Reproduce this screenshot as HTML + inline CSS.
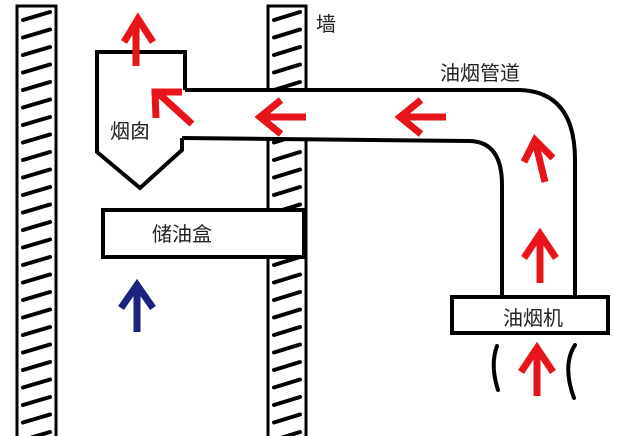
<!DOCTYPE html>
<html><head><style>body{margin:0;background:#fff}svg{display:block}text{font-family:"Liberation Sans","Noto Sans CJK SC",sans-serif;font-size:20px;fill:#222}</style></head><body>
<svg width="640" height="436" viewBox="0 0 640 436" xmlns="http://www.w3.org/2000/svg">
<defs>
<pattern id="h1" x="17" y="6" width="39" height="17.5" patternUnits="userSpaceOnUse">
<path d="M6 14 L33 6" stroke="#000" stroke-width="4" stroke-linecap="round"/>
</pattern>
<pattern id="h2" x="268" y="6" width="38" height="17.5" patternUnits="userSpaceOnUse">
<path d="M6 14 L32 6" stroke="#000" stroke-width="4" stroke-linecap="round"/>
</pattern>
</defs>
<g stroke="#000" stroke-width="3">
<rect x="17" y="6" width="39" height="440" fill="url(#h1)"/>
<rect x="268" y="6" width="38" height="440" fill="url(#h2)"/>
</g>
<!-- duct -->
<path d="M185 90 L520 90 Q575 92 575 160 L575 298 L502 298 L502 185 Q502 142 470 141 L182 138 Z" fill="#fff" stroke="none"/>
<path d="M185 90 L520 90 Q575 92 575 160 L575 298" fill="none" stroke="#000" stroke-width="4"/>
<path d="M182 138 L470 141 Q502 142 502 185 L502 298" fill="none" stroke="#000" stroke-width="4"/>
<!-- chimney -->
<path d="M185 90 L185 52 L97 52 L97 152 L140 188 L182 150 L182 138" fill="#fff" stroke="#000" stroke-width="4"/>
<!-- boxes -->
<rect x="103" y="210" width="201" height="47" fill="#fff" stroke="#000" stroke-width="4"/>
<rect x="452" y="297" width="156" height="36" fill="#fff" stroke="#000" stroke-width="4"/>
<!-- squiggles -->
<path d="M497 346 Q490 365 498 390" fill="none" stroke="#000" stroke-width="4" stroke-linecap="round"/>
<path d="M575 345 Q562 365 574 398" fill="none" stroke="#000" stroke-width="4" stroke-linecap="round"/>
<!-- red arrows -->
<g stroke="#e8141b" stroke-width="7" fill="none" stroke-linecap="butt">
<path d="M136 66 L136 22 M124 42 L138 19 L153 42"/>
<path d="M192 124 L158 93 M156 118 L155 92 L182 92"/>
<path d="M306 117 L262 117 M281 100 L260 117 L281 134"/>
<path d="M446 117 L402 117 M421 100 L400 117 L421 134"/>
<path d="M545 182 L536 145 M524 162 L535 140 L553 158"/>
<path d="M540 283 L540 237 M524 258 L540 234 L556 258"/>
<path d="M537 396 L537 350 M521 372 L537 348 L553 372"/>
</g>
<path d="M137 332 L137 288 M121 308 L137 285 L153 308" stroke="#1b237e" stroke-width="7" fill="none"/>
<text x="316" y="31" font-size="18">墙</text>
<text x="440" y="80">油烟管道</text>
<text x="110" y="138">烟囱</text>
<text x="152" y="241">储油盒</text>
<text x="503" y="325">油烟机</text>
</svg>
</body></html>
